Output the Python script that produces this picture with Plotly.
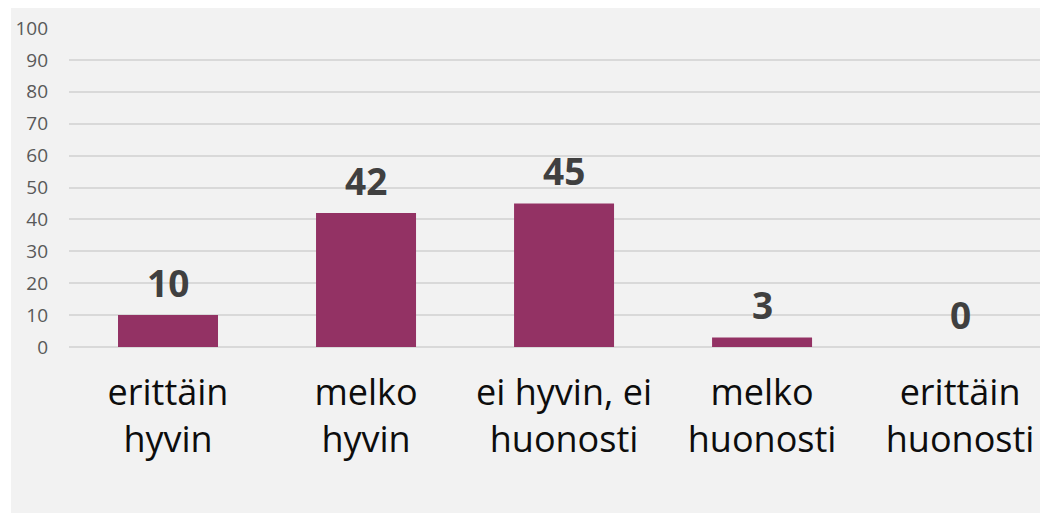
import plotly.graph_objects as go

categories = ["erittäin<br>hyvin", "melko<br>hyvin", "ei hyvin, ei<br>huonosti",
              "melko<br>huonosti", "erittäin<br>huonosti"]
values = [10, 42, 45, 3, 0]
y_ticks = list(range(0, 101, 10))

bar_color = "#933264"
label_color = "#404040"
font_family = "Open Sans, sans-serif"

fig = go.Figure()
fig.add_trace(go.Bar(
    x=categories,
    y=values,
    marker=dict(color=bar_color, line=dict(width=0)),
    width=0.505,
    hoverinfo="skip",
))

# value labels above the bars
for cat, val in zip(categories, values):
    fig.add_annotation(
        x=cat, y=val, text=f"<b>{val}</b>",
        showarrow=False, yanchor="bottom", yshift=5,
        font=dict(family=font_family, size=37, color=label_color),
    )

# grey panel behind the chart, leaving a thin white strip on the left
fig.add_shape(
    type="rect", xref="paper", yref="paper", layer="below",
    x0=-58 / 979, x1=1.05, y0=-170 / 319, y1=1 + 24 / 319,
    fillcolor="#f2f2f2", line=dict(width=0),
)

fig.update_layout(
    width=1040,
    height=505,
    margin=dict(l=61, r=0, t=20, b=166),
    paper_bgcolor="white",
    plot_bgcolor="rgba(0,0,0,0)",
    showlegend=False,
    font=dict(family=font_family),
)
fig.update_xaxes(
    range=[-0.5, 4.444],
    showgrid=False,
    showline=False,
    zeroline=False,
    ticks="",
    ticklabelstandoff=21,
    tickfont=dict(family=font_family, size=36, color="#0d0d0d"),
)
fig.update_yaxes(
    range=[0, 100],
    tickvals=y_ticks,
    showgrid=True,
    gridcolor="#d9d9d9",
    gridwidth=1.5,
    zeroline=True,
    zerolinecolor="#d9d9d9",
    zerolinewidth=1.5,
    showline=False,
    ticks="",
    ticklabelstandoff=20,
    tickfont=dict(family=font_family, size=19, color="#595959"),
)

fig.write_html("out.html")
